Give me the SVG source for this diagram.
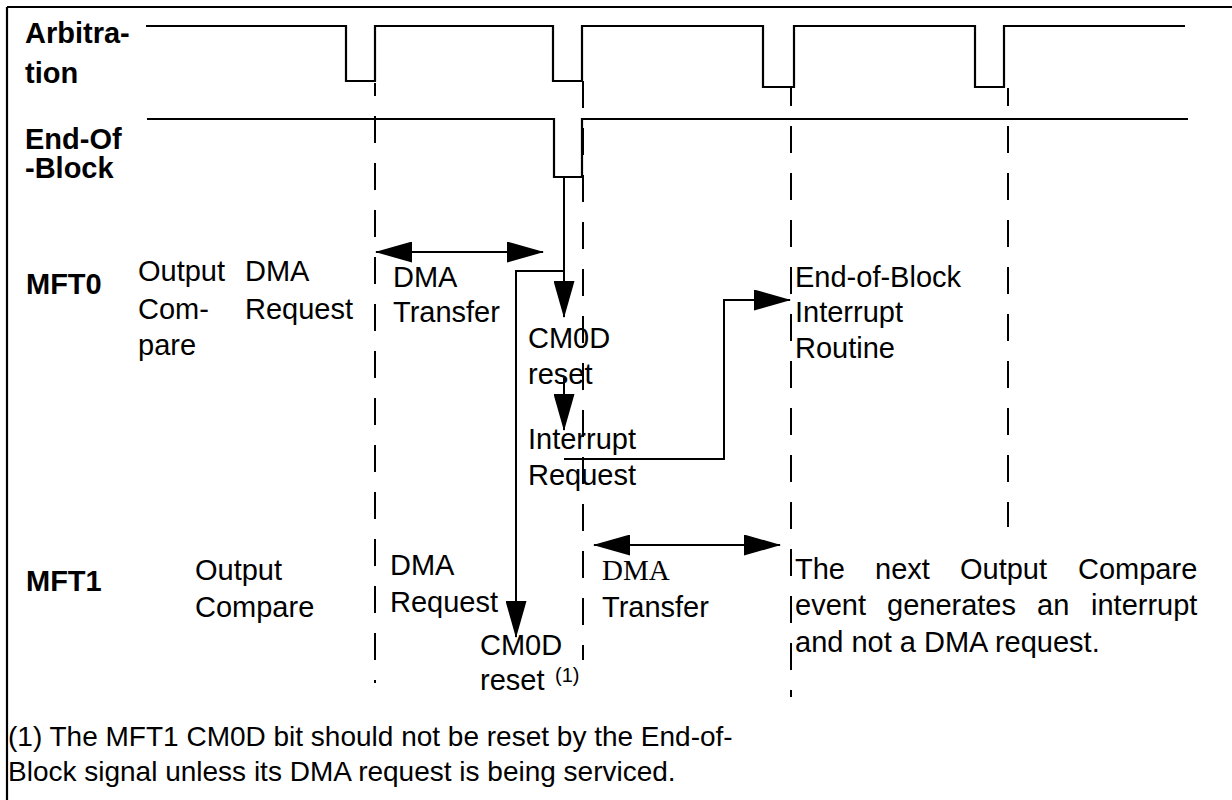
<svg xmlns="http://www.w3.org/2000/svg" width="1232" height="800" viewBox="0 0 1232 800">
<defs>
<style>
text{font-family:"Liberation Sans",Arial,Helvetica,sans-serif;font-size:29px;fill:#000}
.b{font-weight:bold}
.serif{font-family:"Liberation Serif","Times New Roman",serif}
.fn{font-size:28px}
.sup{font-size:20px}
.sig{fill:none;stroke:#000;stroke-width:2.2}
.dash{fill:none;stroke:#000;stroke-width:2;stroke-dasharray:27 20}
.arr{fill:none;stroke:#000;stroke-width:2}
</style>
<marker id="ah" markerUnits="userSpaceOnUse" markerWidth="37" markerHeight="21" viewBox="0 0 37 21" refX="36" refY="10.5" orient="auto-start-reverse"><path d="M0,0 L37,10.5 L0,21 z" fill="#000"/></marker>
</defs>
<rect width="1232" height="800" fill="#fff"/>
<g id="frame"><path class="sig" d="M7,7 H1232 M7,7 V800"/></g>
<g id="signals">
<path id="arbitration-signal" class="sig" d="M146,26 H346 V81 H375 V26 H553 V81 H582 V26 H763 V87 H794 V26 H975 V87 H1004 V26 H1185"/>
<path id="eob-signal" class="sig" d="M147,119 H554 V177 H582 V119 H1188"/>
</g>
<g id="time-markers">
<path class="dash" style="stroke-dashoffset:14" d="M375,83 V683"/>
<path class="dash" d="M583,81 V660"/>
<path class="dash" style="stroke-dashoffset:9" d="M791,88 V697"/>
<path class="dash" style="stroke-dashoffset:9" d="M1008,88 V527"/>
</g>
<g id="connectors">
<path id="mft0-dma-transfer" class="arr" d="M376,252 H543" marker-start="url(#ah)" marker-end="url(#ah)"/>
<path id="eob-to-cm0d" class="arr" d="M564,177 V317" marker-end="url(#ah)"/>
<path id="eob-to-mft1-cm0d" class="arr" d="M564,271 H516 V637" marker-end="url(#ah)"/>
<path id="reset-to-interrupt" class="arr" d="M564,378 V430" marker-end="url(#ah)"/>
<path id="interrupt-to-routine" class="arr" d="M564,459 H724 V300 H790" marker-end="url(#ah)"/>
<path id="mft1-dma-transfer" class="arr" d="M594,545 H780" marker-start="url(#ah)" marker-end="url(#ah)"/>
</g>
<g id="label-arbitration"><text class="b" x="25" y="43">Arbitra-</text><text class="b" x="25" y="83">tion</text></g>
<g id="label-eob"><text class="b" x="25" y="149">End-Of</text><text class="b" x="25" y="178">-Block</text></g>
<g id="label-mft0"><text class="b" x="26" y="294">MFT0</text></g>
<g id="mft0-output-compare"><text x="138" y="281">Output</text><text x="138" y="319">Com-</text><text x="138" y="355">pare</text></g>
<g id="mft0-dma-request"><text x="245" y="281">DMA</text><text x="245" y="319">Request</text></g>
<g id="mft0-dma-transfer-label"><text x="393" y="287">DMA</text><text x="393" y="322">Transfer</text></g>
<g id="mft0-cm0d-reset"><text x="528" y="348">CM0D</text><text x="528" y="384">reset</text></g>
<g id="mft0-interrupt-request"><text x="528" y="449">Interrupt</text><text x="528" y="485">Request</text></g>
<g id="eob-interrupt-routine"><text x="795" y="287">End-of-Block</text><text x="795" y="322">Interrupt</text><text x="795" y="358">Routine</text></g>
<g id="label-mft1"><text class="b" x="26" y="591">MFT1</text></g>
<g id="mft1-output-compare"><text x="195" y="580">Output</text><text x="195" y="617">Compare</text></g>
<g id="mft1-dma-request"><text x="390" y="575">DMA</text><text x="390" y="612">Request</text></g>
<g id="mft1-cm0d-reset"><text x="480" y="655">CM0D</text><text x="480" y="690">reset</text><text class="sup" x="555" y="682">(1)</text></g>
<g id="mft1-dma-transfer-label"><text class="serif" x="602" y="580">DMA</text><text x="602" y="617">Transfer</text></g>
<g id="next-output-compare-note">
<text y="579"><tspan x="795">The</tspan><tspan x="875">next</tspan><tspan x="960">Output</tspan><tspan x="1078">Compare</tspan></text>
<text y="615"><tspan x="795">event</tspan><tspan x="887">generates</tspan><tspan x="1037">an</tspan><tspan x="1091">interrupt</tspan></text>
<text x="795" y="652">and not a DMA request.</text>
</g>
<g id="footnote"><text class="fn" x="8" y="746">(1) The MFT1 CM0D bit should not be reset by the End-of-</text><text class="fn" x="8" y="781">Block signal unless its DMA request is being serviced.</text></g>
</svg>
